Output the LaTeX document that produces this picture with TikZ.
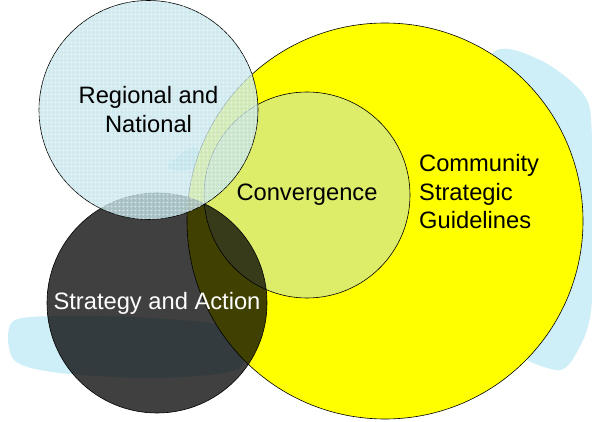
\documentclass[tikz,border=0pt]{standalone}
\usepackage{fontspec}
\setmainfont{Liberation Sans}
\usetikzlibrary{patterns.meta}

\definecolor{venyellow}{RGB}{255,255,0}
\definecolor{venblue}{RGB}{196,228,234}
\definecolor{vengreen}{RGB}{180,215,235}
\definecolor{brush}{RGB}{206,238,248}

\tikzset{
  venn/.style={circle, draw=black, line width=0.6pt, inner sep=0pt,
    align=center, font=\fontsize{23.7}{29}\selectfont},
  grid/.style 2 args={postaction={pattern={Hatch[angle=0,distance=#1,line width=#2]}}}
}

\begin{document}
\begin{tikzpicture}[x=1pt, y=-1pt, line cap=round]
  % frame of the picture
  \useasboundingbox (0,0) rectangle (592,422);

  % brush strokes in the background
  \fill[brush] plot[smooth cycle] coordinates
    {(12,322) (60,316) (150,318) (228,328) (240,368) (160,378) (60,373) (14,360)};
  \fill[brush] plot[smooth cycle] coordinates
    {(492,54) (540,60) (584,95) (592,140) (592,300) (578,350) (555,370) (500,330) (470,150)};
  \fill[brush] plot[smooth cycle] coordinates
    {(168,166) (184,152) (197,148) (198,166) (178,171)};

  % the circles, back to front
  \node[venn, fill=venyellow, minimum size=396pt] (community) at (385,221) {};
  \node[venn, fill=vengreen, fill opacity=0.45, minimum size=206pt, text opacity=1]
    (convergence) at (307,195) {Convergence};
  \node[venn, fill=black, fill opacity=0.75, minimum size=220pt, text=white,
    text opacity=1] (strategy) at (157,303) {Strategy and Action};
  \node[venn, fill=venblue, fill opacity=0.78, grid={4pt}{0.3pt}, pattern color=white,
    minimum size=219pt, text opacity=1] (regional) at (148.5,110)
    {Regional and\\National};

  % label of the big circle
  \node[anchor=west, align=left, inner sep=0pt, font=\fontsize{23.7}{28.5}\selectfont]
    (guidelines) at (419,192) {Community\\Strategic\\Guidelines};
\end{tikzpicture}
\end{document}
